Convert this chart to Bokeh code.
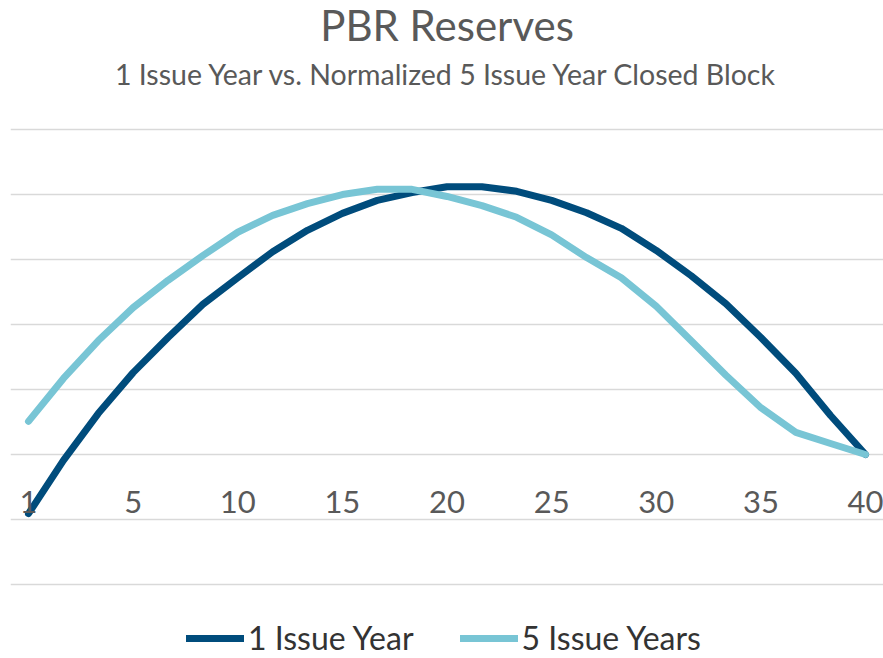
from bokeh.plotting import figure
from bokeh.models import Range1d, FixedTicker, Label, Legend, LegendItem, ColumnDataSource
from bokeh.core.properties import value
from bokeh.embed import file_html
from bokeh.resources import INLINE

# ---- data ----
durations = [0.00, 1.67, 3.33, 5.00, 6.67, 8.33, 10.00, 11.67, 13.33, 15.00,
             16.67, 18.33, 20.00, 21.67, 23.33, 25.00, 26.67, 28.33, 30.00,
             31.67, 33.33, 35.00, 36.67, 38.33, 40.00]
one_issue_year = [-0.91, -0.09, 0.63, 1.26, 1.80, 2.31, 2.72, 3.12, 3.45, 3.71,
                  3.91, 4.03, 4.12, 4.12, 4.05, 3.91, 3.72, 3.48, 3.14, 2.75,
                  2.32, 1.80, 1.25, 0.60, 0.00]
five_issue_years = [0.51, 1.17, 1.75, 2.26, 2.68, 3.06, 3.42, 3.68, 3.86, 4.00,
                    4.08, 4.08, 3.97, 3.83, 3.65, 3.38, 3.03, 2.72, 2.28, 1.75,
                    1.22, 0.72, 0.34, 0.17, 0.00]
tick_positions = [0, 5, 10, 15, 20, 25, 30, 35, 40]
tick_labels = ["1", "5", "10", "15", "20", "25", "30", "35", "40"]
grid_values = [-2, -1, 0, 1, 2, 3, 4, 5]

title_text = "PBR Reserves"
subtitle_text = "1 Issue Year vs. Normalized 5 Issue Year Closed Block"
series_names = ["1 Issue Year", "5 Issue Years"]

DARK = "#004C7C"
LIGHT = "#78C5D5"
TEXT = "#595959"
FONT = "Lato"

p = figure(width=883, height=658, output_backend="svg", toolbar_location=None,
           x_axis_location=None, y_axis_location=None,
           x_range=Range1d(-0.86, 40.86), y_range=Range1d(-3.138, 6.985),
           min_border_left=10, min_border_right=0, min_border_top=0, min_border_bottom=0)
p.outline_line_color = None
p.background_fill_color = "white"
p.border_fill_color = "white"

p.xgrid.visible = False
p.ygrid.ticker = FixedTicker(ticks=grid_values)
p.ygrid.grid_line_color = "#D9D9D9"
p.ygrid.grid_line_width = 1.5

r1 = p.line(durations, one_issue_year, line_color=DARK, line_width=7,
            line_join="round", line_cap="round")
r2 = p.line(durations, five_issue_years, line_color=LIGHT, line_width=7,
            line_join="round", line_cap="round")

# category labels (x-axis tick labels)
tick_src = ColumnDataSource(dict(x=tick_positions, y=[-0.723] * len(tick_positions), t=tick_labels))
p.text(x="x", y="y", text="t", source=tick_src, text_font=value(FONT),
       text_font_size="31px", text_color=TEXT, text_align="center",
       text_baseline="alphabetic")

p.add_layout(Label(x=20, y=6.609, text=title_text, text_font=FONT,
                   text_font_size="42px", text_color=TEXT, text_align="center",
                   text_baseline="alphabetic"))
p.add_layout(Label(x=20, y=5.854, text=subtitle_text, text_font=FONT,
                   text_font_size="28.5px", text_color=TEXT, text_align="center",
                   text_baseline="alphabetic"))

legend = Legend(items=[LegendItem(label=series_names[0], renderers=[r1]),
                       LegendItem(label=series_names[1], renderers=[r2])],
                orientation="horizontal", location=(176, 1),
                glyph_width=58, glyph_height=20, label_height=20,
                label_standoff=4, spacing=46, padding=0, margin=0,
                label_text_font=FONT, label_text_font_size="32px",
                label_text_color="#333333",
                background_fill_alpha=0, border_line_color=None)
p.add_layout(legend)

open("out.html", "w").write(file_html(p, INLINE))
